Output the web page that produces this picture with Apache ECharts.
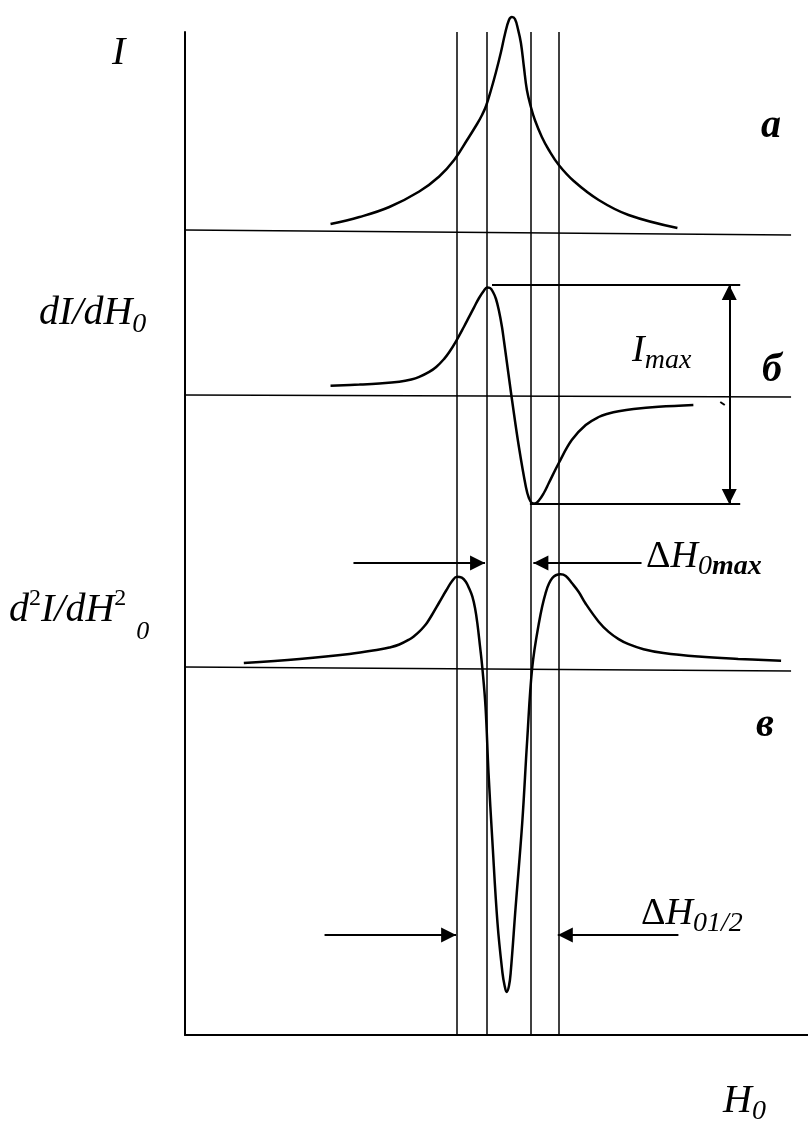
<!DOCTYPE html>
<html>
<head>
<meta charset="utf-8">
<script src="https://cdn.jsdelivr.net/npm/echarts@6/dist/echarts.min.js"></script>
<style>
  html, body { margin: 0; padding: 0; background: #fff; }
  #chart { width: 808px; height: 1122px; }
</style>
</head>
<body>
<div id="chart"></div>
<script>
// Field axis H0 in arbitrary units, resonance near 0
const fieldRange = [-65, 60];
// Characteristic fields: edges of ΔH01/2 (outer) and ΔH0max (inner)
const markerFields = [-10.5, -4.5, 4.3, 9.9];

// а: absorption line I(H0)
const absorption = [
  [-35.8, 0.06], [-30, 0.13], [-24, 0.23], [-18, 0.385], [-14, 0.535],
  [-11, 0.70], [-8.4, 0.90], [-6.4, 1.06], [-5.4, 1.15], [-4.6, 1.24],
  [-3.6, 1.40], [-2.6, 1.58], [-1.6, 1.78], [-0.8, 1.96], [0, 2.10],
  [0.6, 2.13], [1.2, 2.11], [1.8, 2.01], [2.4, 1.87], [3.0, 1.63],
  [3.6, 1.40], [4.4, 1.23], [5.2, 1.10], [6.6, 0.93], [8, 0.80],
  [10, 0.65], [13, 0.49], [18, 0.30], [24, 0.15], [33.8, 0.02]
];

// б: first derivative dI/dH0
const firstDerivative = [
  [-35.8, 0.102], [-30, 0.114], [-26, 0.125], [-22, 0.143], [-19.6, 0.165],
  [-18, 0.191], [-16, 0.241], [-14.6, 0.29], [-13, 0.372], [-12, 0.437],
  [-10.6, 0.549], [-9, 0.695], [-8, 0.791], [-7, 0.887], [-6, 0.98],
  [-5, 1.055], [-4.4, 1.085], [-3.8, 1.08], [-3.2, 1.04], [-2.6, 0.97],
  [-2, 0.85], [-1.4, 0.69], [-1, 0.55], [-0.4, 0.33], [0.2, 0.11],
  [0.6, -0.035], [2, -0.51], [3.4, -0.91], [4, -1.02], [4.6, -1.07],
  [5.2, -1.075], [6, -1.045], [7, -0.97], [8, -0.87], [10, -0.67],
  [12.6, -0.44], [15.4, -0.29], [18, -0.21], [20, -0.175], [22, -0.152],
  [25, -0.13], [30, -0.108], [37, -0.09]
];

// в: second derivative d2I/dH0^2
const secondDerivative = [
  [-53.2, 0.05], [-42, 0.09], [-32, 0.14], [-26, 0.185], [-24, 0.205],
  [-22, 0.235], [-20, 0.285], [-19, 0.32], [-18, 0.363], [-17, 0.417],
  [-16.4, 0.455], [-15.4, 0.535], [-14, 0.655], [-12.6, 0.775], [-11.4, 0.87],
  [-10.46, 0.913], [-9.46, 0.903], [-8.66, 0.863], [-8, 0.797], [-7.34, 0.713],
  [-6.8, 0.597], [-6.34, 0.447], [-5.8, 0.213], [-5.34, 0], [-4.7, -0.39],
  [-4.1, -1.05], [-3.34, -1.72], [-2.3, -2.55], [-1.3, -3.05], [-0.9, -3.17],
  [-0.46, -3.24], [0, -3.18], [0.34, -3.05], [1.34, -2.39], [2.66, -1.55],
  [3.66, -0.72], [4.66, 0], [6, 0.447], [7.34, 0.747], [8.66, 0.897],
  [10.34, 0.937], [11.4, 0.92], [12.66, 0.847], [14, 0.76], [15.34, 0.647],
  [18, 0.463], [20, 0.361], [22, 0.289], [24, 0.238], [27, 0.188],
  [31, 0.15], [38, 0.115], [46, 0.091], [54.6, 0.072]
];

// Zero lines of each trace (slightly tilted as drawn)
const baselineA = [[-65, 0], [56.6, -0.05]];
const baselineB = [[-65, 0.01], [56.6, -0.01]];
const baselineC = [[-65, 0.01], [56.6, -0.03]];

// Peak-to-peak amplitude of б and its reference levels
const ippLevels = { top: 1.11, bottom: -1.08, field: 44.2, leftTop: -3.4, leftBottom: 4.2, right: 46.4 };
// Width arrows on в: [tail, tip] fields and level
const widthMaxArrows = { level: 1.05, left: [-31.2, -4.8], right: [26.6, 4.9] };
const widthHalfArrows = { level: -2.67, left: [-37, -10.6], right: [34, 9.8] };
// Small stray stroke right of б
const strayTick = [[42.4, -0.06], [43.3, -0.09]];

const serif = '"Liberation Serif", "Times New Roman", serif';
const ink = '#000';

const chart = echarts.init(document.getElementById('chart'), null, { renderer: 'canvas' });

function hiddenX(gi) {
  return { type: 'value', gridIndex: gi, min: fieldRange[0], max: fieldRange[1], show: false };
}
function hiddenY(gi, min, max) {
  return { type: 'value', gridIndex: gi, min: min, max: max, show: false };
}
function curve(name, gi, data, width) {
  return {
    name: name, type: 'line', xAxisIndex: gi, yAxisIndex: gi, data: data,
    showSymbol: false, symbol: 'none', smooth: 0.4, clip: false, silent: true,
    lineStyle: { color: ink, width: width }, z: 3
  };
}
function arrow(from, to) {
  return [
    { coord: from, symbol: 'none' },
    { coord: to, symbol: 'triangle', symbolSize: [15, 15] }
  ];
}
function plain(from, to) {
  return [{ coord: from, symbol: 'none' }, { coord: to, symbol: 'none' }];
}
// arrow tips sit exactly on the end coordinate
const markBase = {
  silent: true, animation: false, label: { show: false },
  lineStyle: { color: ink, width: 2, type: 'solid' },
  emphasis: { disabled: true },
  symbolOffset: [0, [0, 7.5]]
};

const option = {
  animation: false,
  backgroundColor: '#fff',
  grid: [
    { left: 185, top: 32, width: 625, height: 1003 },   // frame
    { left: 185, top: 10, width: 625, height: 220 },    // а
    { left: 185, top: 246, width: 625, height: 300 },   // б
    { left: 185, top: 468, width: 625, height: 600 }    // в
  ],
  xAxis: [
    {
      type: 'value', gridIndex: 0, min: fieldRange[0], max: fieldRange[1],
      axisLine: { show: true, onZero: false, lineStyle: { color: ink, width: 2 } },
      axisTick: { show: false }, axisLabel: { show: false }, splitLine: { show: false }
    },
    hiddenX(1), hiddenX(2), hiddenX(3)
  ],
  yAxis: [
    {
      type: 'value', gridIndex: 0, min: 0, max: 1,
      axisLine: { show: true, onZero: false, lineStyle: { color: ink, width: 2 } },
      axisTick: { show: false }, axisLabel: { show: false }, splitLine: { show: false }
    },
    hiddenY(1, 0, 2.2), hiddenY(2, -1.5, 1.5), hiddenY(3, -4, 2)
  ],
  series: [
    {
      type: 'line', xAxisIndex: 0, yAxisIndex: 0, data: [], silent: true,
      markLine: {
        silent: true, animation: false, label: { show: false }, symbol: 'none',
        emphasis: { disabled: true },
        lineStyle: { color: ink, width: 1.5, type: 'solid' },
        data: markerFields.map(function (f) { return { xAxis: f }; })
      }
    },
    {
      type: 'line', xAxisIndex: 1, yAxisIndex: 1, data: baselineA, symbol: 'none',
      silent: true, clip: false, lineStyle: { color: ink, width: 1.5 }
    },
    {
      type: 'line', xAxisIndex: 2, yAxisIndex: 2, data: baselineB, symbol: 'none',
      silent: true, clip: false, lineStyle: { color: ink, width: 1.5 }
    },
    {
      type: 'line', xAxisIndex: 3, yAxisIndex: 3, data: baselineC, symbol: 'none',
      silent: true, clip: false, lineStyle: { color: ink, width: 1.5 }
    },
    curve('а', 1, absorption, 2.5),
    Object.assign(curve('б', 2, firstDerivative, 2.5), {
      markLine: Object.assign({}, markBase, {
        data: [
          plain([ippLevels.leftTop, ippLevels.top], [ippLevels.right, ippLevels.top]),
          plain([ippLevels.leftBottom, ippLevels.bottom], [ippLevels.right, ippLevels.bottom]),
          arrow([ippLevels.field, 0], [ippLevels.field, ippLevels.top]),
          arrow([ippLevels.field, 0], [ippLevels.field, ippLevels.bottom]),
          plain(strayTick[0], strayTick[1])
        ]
      })
    }),
    Object.assign(curve('в', 3, secondDerivative, 2.5), {
      markLine: Object.assign({}, markBase, {
        data: [
          arrow([widthMaxArrows.left[0], widthMaxArrows.level], [widthMaxArrows.left[1], widthMaxArrows.level]),
          arrow([widthMaxArrows.right[0], widthMaxArrows.level], [widthMaxArrows.right[1], widthMaxArrows.level]),
          arrow([widthHalfArrows.left[0], widthHalfArrows.level], [widthHalfArrows.left[1], widthHalfArrows.level]),
          arrow([widthHalfArrows.right[0], widthHalfArrows.level], [widthHalfArrows.right[1], widthHalfArrows.level])
        ]
      })
    })
  ],
  graphic: [
    { type: 'text', x: 112, y: 53, silent: true,
      style: { text: 'I', font: 'italic 40px ' + serif, fill: ink, verticalAlign: 'middle' } },
    { type: 'text', x: 39, y: 313, silent: true,
      style: { text: '{m|dI/dH}{s|0}', verticalAlign: 'middle', fill: ink,
        rich: { m: { font: 'italic 40px ' + serif }, s: { font: 'italic 28px ' + serif, padding: [24, 0, 0, 0] } } } },
    { type: 'text', x: 9, y: 610, silent: true,
      style: { text: '{m|d}{p|2}{m|I/dH}{p|2}{s|0}', verticalAlign: 'middle', fill: ink,
        rich: {
          m: { font: 'italic 40px ' + serif },
          p: { font: '24px ' + serif, padding: [0, 0, 22, 0] },
          s: { font: 'italic 26px ' + serif, padding: [44, 0, 0, 10] }
        } } },
    { type: 'text', x: 646, y: 557, silent: true,
      style: { text: '{d|Δ}{m|H}{s|0}{b|max}', verticalAlign: 'middle', fill: ink,
        rich: {
          d: { font: '38px ' + serif },
          m: { font: 'italic 38px ' + serif },
          s: { font: 'italic 28px ' + serif, padding: [19, 0, 0, 0] },
          b: { font: 'italic bold 28px ' + serif, padding: [19, 0, 0, 0] }
        } } },
    { type: 'text', x: 641, y: 914, silent: true,
      style: { text: '{d|Δ}{m|H}{s|01/2}', verticalAlign: 'middle', fill: ink,
        rich: {
          d: { font: '38px ' + serif },
          m: { font: 'italic 38px ' + serif },
          s: { font: 'italic 28px ' + serif, padding: [19, 0, 0, 0] }
        } } },
    { type: 'text', x: 632, y: 351, silent: true,
      style: { text: '{m|I}{s|max}', verticalAlign: 'middle', fill: ink,
        rich: {
          m: { font: 'italic 38px ' + serif },
          s: { font: 'italic 28px ' + serif, padding: [20, 0, 0, 0] }
        } } },
    { type: 'text', x: 761, y: 127, silent: true,
      style: { text: 'а', font: 'italic bold 40px ' + serif, fill: ink, verticalAlign: 'middle' } },
    { type: 'text', x: 762, y: 371, silent: true,
      style: { text: 'б', font: 'italic bold 40px ' + serif, fill: ink, verticalAlign: 'middle' } },
    { type: 'text', x: 756, y: 726, silent: true,
      style: { text: 'в', font: 'italic bold 40px ' + serif, fill: ink, verticalAlign: 'middle' } },
    { type: 'text', x: 723, y: 1101, silent: true,
      style: { text: '{m|H}{s|0}', verticalAlign: 'middle', fill: ink,
        rich: {
          m: { font: 'italic 40px ' + serif },
          s: { font: 'italic 28px ' + serif, padding: [22, 0, 0, 0] }
        } } }
  ]
};

chart.setOption(option);
</script>
</body>
</html>
